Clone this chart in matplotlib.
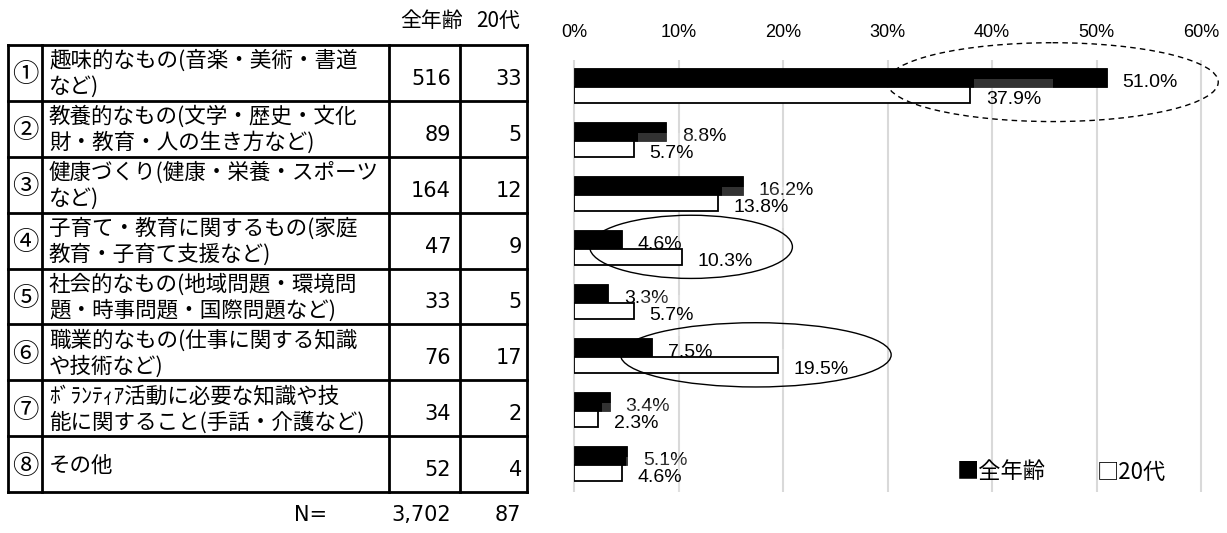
import numpy as np
import matplotlib
matplotlib.use("Agg")
import matplotlib.pyplot as plt
from matplotlib.patches import Ellipse

# ---------------- data ----------------
item_marks = ["①", "②", "③", "④", "⑤", "⑥", "⑦", "⑧"]
item_lines = [
    ["趣味的なもの(音楽・美術・書道", "など)"],
    ["教養的なもの(文学・歴史・文化", "財・教育・人の生き方など)"],
    ["健康づくり(健康・栄養・スポーツ", "など)"],
    ["子育て・教育に関するもの(家庭", "教育・子育て支援など)"],
    ["社会的なもの(地域問題・環境問", "題・時事問題・国際問題など)"],
    ["職業的なもの(仕事に関する知識", "や技術など)"],
    ["ﾎﾞﾗﾝﾃｨｱ活動に必要な知識や技", "能に関すること(手話・介護など)"],
    ["その他"],
]
count_all = [516, 89, 164, 47, 33, 76, 34, 52]
count_20s = [33, 5, 12, 9, 5, 17, 2, 4]
pct_all = [51.0, 8.8, 16.2, 4.6, 3.3, 7.5, 3.4, 5.1]
pct_20s = [37.9, 5.7, 13.8, 10.3, 5.7, 19.5, 2.3, 4.6]
total_all = "3,702"
total_20s = "87"
series_names = ["全年齢", "20代"]
pct_ticks = [0, 10, 20, 30, 40, 50, 60]

CJK = "Noto Sans CJK JP"
NUM = "DejaVu Sans"
LAT = "Liberation Sans"

W, H = 1227, 533
fig = plt.figure(figsize=(W / 100, H / 100), dpi=100)
fig.patch.set_facecolor("white")

# ---------------- bar chart ----------------
x_left, x_right = 574, 1201
y_top, y_bot = 60, 492
ax = fig.add_axes([x_left / W, 1 - y_bot / H,
                   (x_right - x_left) / W, (y_bot - y_top) / H])
n = len(pct_all)
pos = np.arange(n)
h_all, h_20s = 0.352, 0.296

ax.set_xlim(0, 60)
ax.set_ylim(n - 0.5, -0.5)
ax.vlines(pct_ticks, -0.5, n - 0.5, colors="#d9d9d9", lw=1.5,
          zorder=0, clip_on=False)

ax.barh(pos - h_all, pct_all, height=h_all, align="edge",
        color="black", edgecolor="black", lw=0.6, zorder=2)
ax.barh(pos, pct_20s, height=h_20s, align="edge",
        color="white", edgecolor="black", lw=1.3, zorder=2)

for i, v in enumerate(pct_all):
    ax.annotate(f"{v:.1f}%", xy=(v + 1.5, i - h_all / 2), xytext=(0, -7.2),
                textcoords="offset points", ha="left", va="baseline",
                fontsize=14, family=LAT, zorder=4)
for i, v in enumerate(pct_20s):
    ax.annotate(f"{v:.1f}%", xy=(v + 1.5, i + h_20s / 2), xytext=(0, -6.5),
                textcoords="offset points", ha="left", va="baseline",
                fontsize=14, family=LAT, zorder=4,
                bbox=dict(boxstyle="square,pad=0.6", facecolor="white",
                          edgecolor="none", alpha=0.2))

# highlight ellipses
ax.add_patch(Ellipse((45.8, -0.09), 31.7, 1.46, fill=False, edgecolor="black",
                     lw=1.0, linestyle=(0, (4, 3)), clip_on=False, zorder=5))
ax.add_patch(Ellipse((11.2, 2.96), 19.4, 1.17, fill=False, edgecolor="black",
                     lw=1.0, clip_on=False, zorder=5))
ax.add_patch(Ellipse((17.4, 4.96), 25.9, 1.19, fill=False, edgecolor="black",
                     lw=1.0, clip_on=False, zorder=5))

ax.xaxis.tick_top()
ax.set_xticks(pct_ticks)
ax.set_xticklabels([f"{t}%" for t in pct_ticks], family=LAT, fontsize=13)
ax.tick_params(axis="x", length=0, pad=14)
ax.set_yticks([])
for s in ax.spines.values():
    s.set_visible(False)

# ---------------- table (pixel coordinates) ----------------
ov = fig.add_axes([0, 0, 1, 1], zorder=10)
ov.set_xlim(0, W)
ov.set_ylim(H, 0)
ov.axis("off")
ov.patch.set_alpha(0)

col_x = [8, 42, 389, 460, 527]
row_y = np.linspace(45, 492, n + 1)
for x in col_x:
    ov.plot([x, x], [row_y[0], row_y[-1]], color="black", lw=2.0,
            solid_capstyle="projecting")
for y in row_y:
    ov.plot([col_x[0], col_x[-1]], [y, y], color="black", lw=2.0,
            solid_capstyle="projecting")

for i in range(n):
    c = (row_y[i] + row_y[i + 1]) / 2
    ov.text(25, c + 2, item_marks[i], family=CJK, fontsize=19,
            ha="center", va="center")
    lines = item_lines[i]
    if len(lines) == 1:
        offs = [2]
    else:
        offs = [-12, 14]
    for line, o in zip(lines, offs):
        ov.text(49, c + o, line, family=CJK, fontsize=15.5,
                ha="left", va="center")
    ov.text(451, c + 6, str(count_all[i]), family=NUM, fontsize=15,
            ha="right", va="center")
    ov.text(522, c + 6, str(count_20s[i]), family=NUM, fontsize=15,
            ha="right", va="center")

# column headers and totals
ov.text(432, 21, series_names[0], family=CJK, fontsize=15,
        ha="center", va="center")
ov.text(498, 21, series_names[1], family=CJK, fontsize=15,
        ha="center", va="center")
ov.text(294, 515, "N=", family=NUM, fontsize=15, ha="left", va="center")
ov.text(451, 515, total_all, family=NUM, fontsize=15, ha="right", va="center")
ov.text(521, 515, total_20s, family=NUM, fontsize=15, ha="right", va="center")

# legend
ov.text(957, 472, "■" + series_names[0], family=CJK, fontsize=16,
        ha="left", va="center")
ov.text(1097, 472, "□" + series_names[1], family=CJK, fontsize=16,
        ha="left", va="center")

fig.savefig("out.png", dpi=100, facecolor="white")
